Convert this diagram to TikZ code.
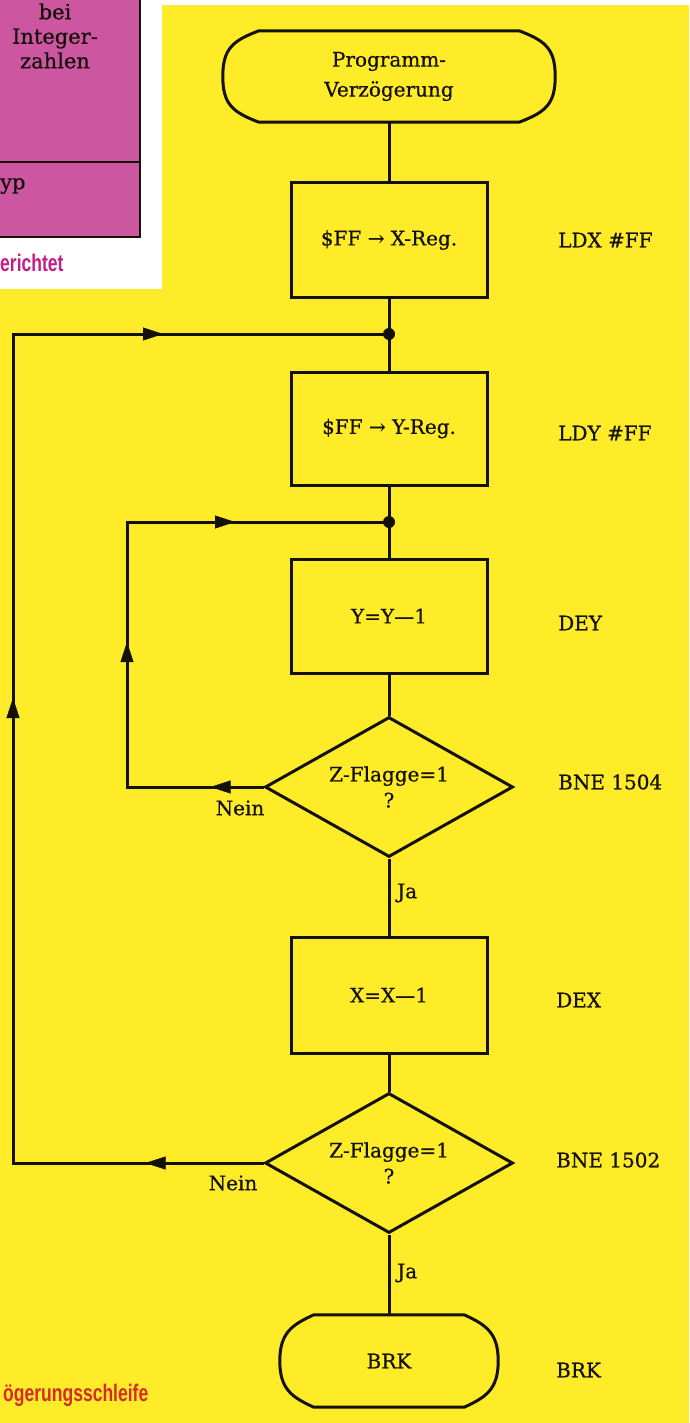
\documentclass[tikz,border=0pt]{standalone}
\usepackage{fontspec}
\setmainfont{DejaVu Serif}[UprightFeatures={FakeBold=0.6}]
\newfontfamily\capfont[FakeStretch=0.73]{Liberation Sans}
\usetikzlibrary{arrows.meta,decorations.markings,shapes.geometric}
\definecolor{bgyellow}{RGB}{255,236,40}
\definecolor{boxpink}{RGB}{204,86,160}
\definecolor{capmagenta}{RGB}{196,28,136}
\definecolor{capred}{RGB}{212,44,40}
\definecolor{inkc}{RGB}{20,16,10}
\begin{document}
\begin{tikzpicture}[x=1pt,y=-1pt,
  flow/.style={draw=inkc, line width=3pt, line join=miter},
  txt/.style={font=\fontsize{20}{24}\selectfont, text=inkc, inner sep=0pt},
  proc/.style={draw=inkc, line width=3pt, minimum width=196pt, minimum height=114pt, inner sep=0pt, align=center, font=\fontsize{20}{24}\selectfont, text=inkc},
  dec/.style={draw=inkc, line width=3pt, diamond, aspect=1.77, minimum width=248pt, minimum height=140pt, inner sep=0pt, align=center, font=\fontsize{20}{26}\selectfont, text=inkc},
  termtext/.style={inner sep=0pt, align=center, font=\fontsize{20}{30}\selectfont, text=inkc},
  asmlabel/.style={txt, anchor=west},
  tipat/.style={decorate, decoration={markings, mark=at position #1 with {\arrow[inkc]{Triangle[length=20pt,width=13pt]}}}},
  dotc/.style={circle, fill=inkc, inner sep=0pt, minimum size=12pt}
]
\useasboundingbox (0,0) rectangle (689,1423);
\clip (0,0) rectangle (689,1423);
% backgrounds
\fill[bgyellow] (0,0) rectangle (689,1423);
\fill[white] (0,0) rectangle (689,5);
\fill[white] (0,0) rectangle (162,289);
% pink table fragment
\fill[boxpink] (-5,-5) rectangle (140,237);
\draw[inkc, line width=1.6pt] (-5,162) -- (140,162);
\draw[inkc, line width=1.6pt] (140,-5) -- (140,237) -- (-5,237);
\node[txt, align=center, font=\fontsize{21}{24.5}\selectfont] (tb) at (55,36) {bei\\Integer-\\zahlen};
\node[txt, anchor=west, font=\fontsize{21}{24}\selectfont] (typ) at (0,186) {yp};
\node[anchor=west, inner sep=0pt, text=capmagenta, font=\capfont\bfseries\fontsize{24}{26}\selectfont] (cap1) at (0,263) {erichtet};
\node[anchor=west, inner sep=0pt, text=capred, font=\capfont\bfseries\fontsize{24}{26}\selectfont] (cap2) at (3,1395) {ögerungsschleife};

% flowchart nodes
\node[termtext, minimum width=260pt, minimum height=91pt] (start) at (389,76.5) {Programm-\\Verzögerung};
\draw[flow] (start.north west) -- (start.north east)
  .. controls +(26,10) and +(0,-28) .. ([xshift=36pt]start.east)
  .. controls +(0,28) and +(26,-10) .. (start.south east)
  -- (start.south west)
  .. controls +(-26,-10) and +(0,28) .. ([xshift=-36pt]start.west)
  .. controls +(0,-28) and +(-26,10) .. (start.north west) -- cycle;

\node[proc] (b1) at (389,240) {\$FF → X-Reg.};
\node[proc, minimum height=113pt] (b2) at (389,428.5) {\$FF → Y-Reg.};
\node[proc] (b3) at (389,616) {Y=Y—1};
\node[dec] (d1) at (389,787) {Z-Flagge=1\\?};
\node[proc, minimum height=116pt] (b4) at (389,995) {X=X—1};
\node[dec] (d2) at (389,1163) {Z-Flagge=1\\?};

\node[termtext, minimum width=150pt, minimum height=92pt] (end) at (389,1361) {BRK};
\draw[flow] (end.north west) -- (end.north east)
  .. controls +(22,10) and +(0,-28) .. ([xshift=34pt]end.east)
  .. controls +(0,28) and +(22,-10) .. (end.south east)
  -- (end.south west)
  .. controls +(-22,-10) and +(0,28) .. ([xshift=-34pt]end.west)
  .. controls +(0,-28) and +(-22,10) .. (end.north west) -- cycle;

% junction dots and loop corners
\node[dotc] (j1) at (389,334) {};
\node[dotc] (j2) at (389,522) {};
\coordinate (o1) at (13,1163);
\coordinate (o2) at (13,334);
\coordinate (i1) at (127,787);
\coordinate (i2) at (127,522);

% main column
\draw[flow] (start.south) -- (b1.north);
\draw[flow] (b1.south) -- (j1.center) -- (b2.north);
\draw[flow] (b2.south) -- (j2.center) -- (b3.north);
\draw[flow] (b3.south) -- (d1.north);
\draw[flow] (d1.south) -- (b4.north);
\draw[flow] (b4.south) -- (d2.north);
\draw[flow] (d2.south) -- (end.north);

% loops
\draw[flow] (d1.west) -- (i1) -- (i2) -- (j2.center);
\draw[flow] (d2.west) -- (o1) -- (o2) -- (j1.center);
\path[tipat=53pt] (d1.west) -- (i1);
\path[tipat=145pt] (i1) -- (i2);
\path[tipat=108pt] (i2) -- (j2.center);
\path[tipat=118pt] (d2.west) -- (o1);
\path[tipat=465pt] (o1) -- (o2);
\path[tipat=150pt] (o2) -- (j1.center);

% branch labels
\node[txt] (n1) at (240,808) {Nein};
\node[txt] (n2) at (233,1183) {Nein};
\node[txt, anchor=west] (ja1) at (397,893) {Ja};
\node[txt, anchor=west] (ja2) at (397,1273) {Ja};

% assembler labels
\node[asmlabel] (a1) at (558,240) {LDX \#FF};
\node[asmlabel] (a2) at (558,433) {LDY \#FF};
\node[asmlabel] (a3) at (558,623) {DEY};
\node[asmlabel] (a4) at (558,782) {BNE 1504};
\node[asmlabel] (a5) at (556,1000) {DEX};
\node[asmlabel] (a6) at (556,1160) {BNE 1502};
\node[asmlabel] (a7) at (556,1370) {BRK};
\end{tikzpicture}
\end{document}
